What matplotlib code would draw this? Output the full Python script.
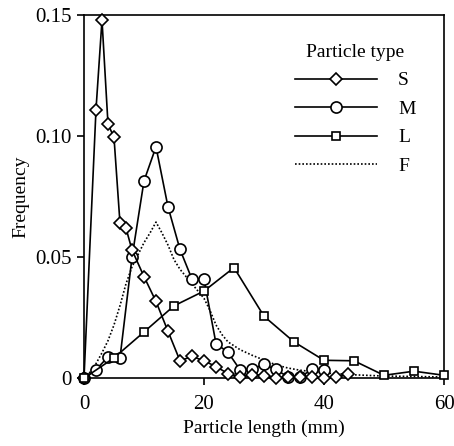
import numpy as np
import matplotlib
matplotlib.use("Agg")
import matplotlib.pyplot as plt

plt.rcParams['font.family'] = ['Liberation Serif', 'DejaVu Serif']

# S particles
s_x = [0, 2, 3, 4, 5, 6, 7, 8, 10, 12, 14, 16, 18, 20, 22, 24, 26, 28, 30, 32, 34, 36, 38, 40, 42, 44]
s_y = [0, 0.111, 0.148, 0.105, 0.0995, 0.064, 0.062, 0.053, 0.042, 0.0317, 0.0194, 0.0072, 0.009, 0.0072,
       0.0048, 0.0019, 0.0005, 0.0015, 0.001, 0.0, 0.0005, 0.0005, 0.0003, 0.0, 0.0003, 0.0017]

# M particles
m_x = [0, 2, 4, 6, 8, 10, 12, 14, 16, 18, 20, 22, 24, 26, 28, 30, 32, 34, 36, 38, 40]
m_y = [0, 0.0035, 0.0088, 0.0084, 0.0499, 0.0815, 0.0956, 0.0708, 0.0532, 0.0409, 0.0409, 0.0143,
       0.0107, 0.0035, 0.0037, 0.0057, 0.0036, 0.0005, 0.0005, 0.0036, 0.0034]

# L particles
l_x = [0, 5, 10, 15, 20, 25, 30, 35, 40, 45, 50, 55, 60]
l_y = [0, 0.0084, 0.0191, 0.0299, 0.036, 0.0457, 0.0256, 0.015, 0.0074, 0.0072, 0.0012, 0.0029, 0.0012]

# F (fitted)
f_x = [0, 1, 2, 3, 4, 5, 6, 7, 8, 9, 10, 11, 12, 13, 14, 15, 16, 17, 18, 19, 20, 21, 22, 23, 24,
       26, 28, 30, 32, 34, 36, 40, 45, 50, 55, 60]
f_y = [0, 0.0025, 0.006, 0.0105, 0.0155, 0.022, 0.030, 0.039, 0.046, 0.051, 0.056, 0.060, 0.0645,
       0.060, 0.055, 0.049, 0.045, 0.042, 0.039, 0.036, 0.033, 0.028, 0.022, 0.018, 0.015,
       0.0118, 0.0095, 0.0075, 0.0055, 0.0042, 0.0033, 0.0022, 0.0014, 0.0009, 0.0007, 0.0005]

fig = plt.figure(figsize=(4.54, 4.46), dpi=100)
ax = fig.add_axes([0.185, 0.152, 0.793, 0.814])

ax.plot(s_x, s_y, color='black', lw=1.2, marker='D', ms=6.5, mfc='white', mec='black', mew=1.2,
        label='S', clip_on=False, zorder=4)
ax.plot(m_x, m_y, color='black', lw=1.2, marker='o', ms=8, mfc='white', mec='black', mew=1.2,
        label='M', clip_on=False, zorder=3)
ax.plot(l_x, l_y, color='black', lw=1.2, marker='s', ms=5.5, mfc='white', mec='black', mew=1.2,
        label='L', clip_on=False, zorder=5)
ax.plot(f_x, f_y, color='black', lw=1.2, ls=(0, (1, 1.2)), label='F', zorder=2)

ax.set_xlim(0, 60)
ax.set_ylim(0, 0.15)
ax.set_xticks([0, 20, 40, 60])
ax.set_yticks([0, 0.05, 0.10, 0.15])
ax.set_yticklabels(['0', '0.05', '0.10', '0.15'])
ax.tick_params(direction='out', length=5, width=1.2, labelsize=15, colors='black')
ax.tick_params(axis='x', pad=7)
ax.tick_params(axis='y', pad=4)
for sp in ax.spines.values():
    sp.set_linewidth(1.2)

ax.set_xlabel('Particle length (mm)', fontsize=14, labelpad=4)
ax.set_ylabel('Frequency', fontsize=14, labelpad=4)

leg = ax.legend(title='Particle type', loc='upper left', bbox_to_anchor=(0.586, 0.921),
                frameon=False, fontsize=14, title_fontsize=14, handlelength=4.2,
                handletextpad=1.1, labelspacing=0.56, borderpad=0, borderaxespad=0)

fig.savefig('out.png', dpi=100)
